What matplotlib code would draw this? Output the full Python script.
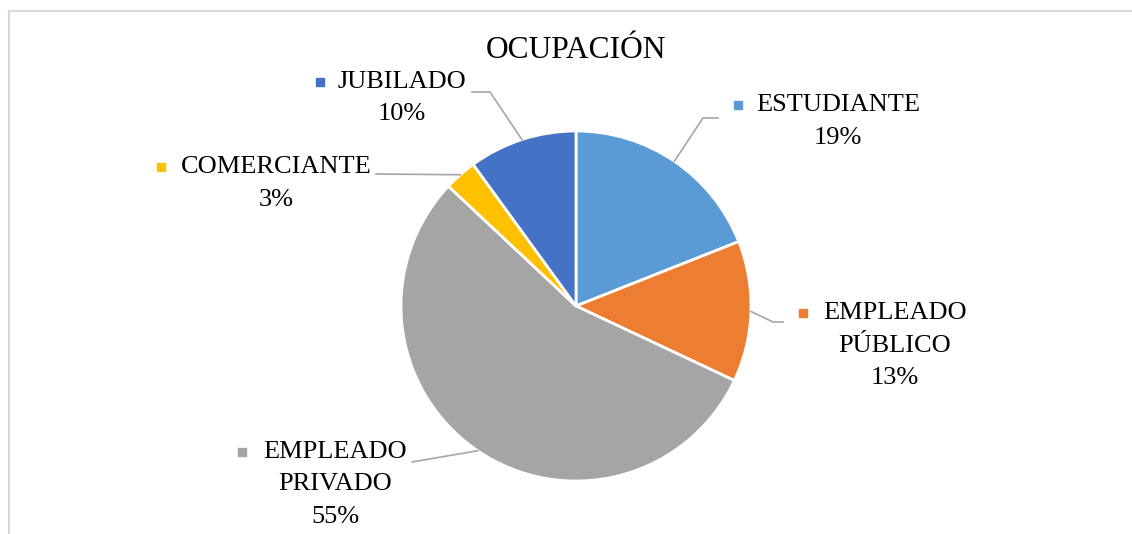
import numpy as np
import matplotlib.pyplot as plt
from matplotlib.lines import Line2D

categorias = ["ESTUDIANTE", "EMPLEADO\nPÚBLICO", "EMPLEADO\nPRIVADO", "COMERCIANTE", "JUBILADO"]
porcentajes = [19, 13, 55, 3, 10]
colores = ["#5B9BD5", "#ED7D31", "#A5A5A5", "#FFC000", "#4472C4"]

W, H = 1132, 534
cx, cy, R = 576, 306, 175

fig = plt.figure(figsize=(W / 100, H / 100), dpi=100)
ax = fig.add_axes([0, 0, 1, 1])

def px(x, y):
    # pixel (desde arriba a la izquierda) -> coordenadas del eje
    return (x - cx) / R, (cy - y) / R

wedges, _ = ax.pie(porcentajes, colors=colores, startangle=90, counterclock=False,
                   radius=1, wedgeprops=dict(edgecolor="white", linewidth=2))

# pie() reinicia los limites, se fijan despues
ax.set_xlim(-cx / R, (W - cx) / R)
ax.set_ylim(-(H - cy) / R, cy / R)
ax.set_aspect("equal")
ax.axis("off")

# posiciones de etiquetas (centro de texto, marcador, codo de la linea)
etiquetas = [
    dict(tx=838, ty=105, mx=738, codo=[(703, 118), (718, 118)]),
    dict(tx=895, ty=313, mx=803, codo=[(773, 322), (783, 322)]),
    dict(tx=335, ty=452, mx=242, codo=[(412, 462)]),
    dict(tx=276, ty=167, mx=161, codo=[(376, 174)]),
    dict(tx=402, ty=82, mx=320, codo=[(490, 92), (472, 92)]),
]

fuente = "Liberation Serif"
for w, cat, p, col, e in zip(wedges, categorias, porcentajes, colores, etiquetas):
    ang = np.deg2rad((w.theta1 + w.theta2) / 2)
    x0, y0 = np.cos(ang) * w.r, np.sin(ang) * w.r
    pts = [(x0, y0)] + [px(*c) for c in e["codo"]]
    xs, ys = zip(*pts)
    ax.plot(xs, ys, color="#A6A6A6", linewidth=1.2)
    lineas = cat.split("\n") + [f"{p}%"]
    for i, t in enumerate(lineas):
        x, y = px(e["tx"], e["ty"] + i * 32.5)
        ax.text(x, y, t, ha="center", va="center", fontsize=19, family=fuente, color="black")
    mx, my = px(e["mx"], e["ty"])
    ax.plot(mx, my, marker="s", markersize=5.5, color=col, linestyle="none")

tx, ty = px(576, 50)
ax.text(tx, ty, "OCUPACIÓN", ha="center", va="center", fontsize=22.7, family=fuente, color="black")

# marco del grafico
fig.add_artist(Line2D([9 / W, 1], [1 - 11 / H, 1 - 11 / H], color="#D9D9D9", linewidth=1.5))
fig.add_artist(Line2D([9 / W, 9 / W], [0, 1 - 11 / H], color="#D9D9D9", linewidth=1.5))

fig.savefig("out.png", dpi=100, facecolor="white")
